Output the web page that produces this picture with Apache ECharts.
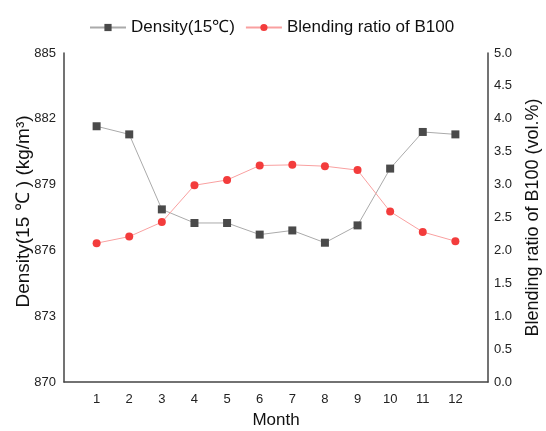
<!DOCTYPE html>
<html>
<head>
<meta charset="utf-8">
<script src="https://cdn.jsdelivr.net/npm/echarts@6/dist/echarts.min.js"></script>
<style>
  html, body { margin: 0; padding: 0; background: #fff; }
  #chart { width: 546px; height: 431px; }
</style>
</head>
<body>
<div id="chart"></div>
<script>
// data
const months = [1, 2, 3, 4, 5, 6, 7, 8, 9, 10, 11, 12]
const density = [881.66, 881.29, 877.87, 877.25, 877.25, 876.72, 876.91, 876.35, 877.14, 879.73, 881.40, 881.29]
const blending = [2.11, 2.21, 2.43, 2.99, 3.07, 3.29, 3.30, 3.28, 3.22, 2.59, 2.28, 2.14]

const font = 'Liberation Sans, Arial, sans-serif'
const axisColor = '#444'

const chart = echarts.init(document.getElementById('chart'))
chart.setOption({
  animation: false,
  textStyle: { fontFamily: font },
  legend: {
    top: 14,
    left: 84,
    itemWidth: 36,
    itemHeight: 9,
    itemGap: 10,
    textStyle: { fontSize: 17, color: '#111', fontFamily: font },
    data: ['Density(15℃)', 'Blending ratio of B100']
  },
  grid: { left: 64, right: 58, top: 53, bottom: 49, outerBoundsMode: 'none' },
  xAxis: {
    type: 'value',
    min: 0,
    max: 13,
    interval: 1,
    name: 'Month',
    nameLocation: 'middle',
    nameGap: 30,
    nameMoveOverlap: false,
    nameTextStyle: { fontSize: 17, color: '#111' },
    axisLine: { lineStyle: { color: axisColor, width: 1.5 } },
    axisTick: { show: false },
    splitLine: { show: false },
    axisLabel: {
      fontSize: 13,
      color: '#222',
      margin: 11,
      formatter: v => (v >= 1 && v <= 12 ? String(v) : '')
    }
  },
  yAxis: [
    {
      type: 'value',
      min: 870,
      max: 885,
      interval: 3,
      name: 'Density(15 ℃ ) (kg/m³)',
      nameLocation: 'middle',
      nameGap: 31,
      nameMoveOverlap: false,
      nameTextStyle: { fontSize: 19, color: '#111', padding: [0, 0, 0, 12] },
      axisLine: { show: true, lineStyle: { color: axisColor, width: 1.5 } },
      axisTick: { show: false },
      splitLine: { show: false },
      axisLabel: { fontSize: 13, color: '#222', margin: 8 }
    },
    {
      type: 'value',
      min: 0,
      max: 5,
      interval: 0.5,
      name: 'Blending ratio of B100 (vol.%)',
      nameLocation: 'middle',
      nameGap: 36,
      nameRotate: 90,
      nameMoveOverlap: false,
      nameTextStyle: { fontSize: 18, color: '#111' },
      axisLine: { show: true, lineStyle: { color: axisColor, width: 1.5 } },
      axisTick: { show: false },
      splitLine: { show: false },
      axisLabel: { fontSize: 13, color: '#222', margin: 6, formatter: v => v.toFixed(1) }
    }
  ],
  series: [
    {
      name: 'Density(15℃)',
      type: 'line',
      yAxisIndex: 0,
      symbol: 'rect',
      symbolSize: 8,
      data: months.map((m, i) => [m, density[i]]),
      lineStyle: { color: '#aaa', width: 1 },
      itemStyle: { color: '#4a4a4a' }
    },
    {
      name: 'Blending ratio of B100',
      type: 'line',
      yAxisIndex: 1,
      symbol: 'circle',
      symbolSize: 8,
      data: months.map((m, i) => [m, blending[i]]),
      lineStyle: { color: '#f9a0a0', width: 1 },
      itemStyle: { color: '#f33c3c' }
    }
  ]
})
</script>
</body>
</html>
